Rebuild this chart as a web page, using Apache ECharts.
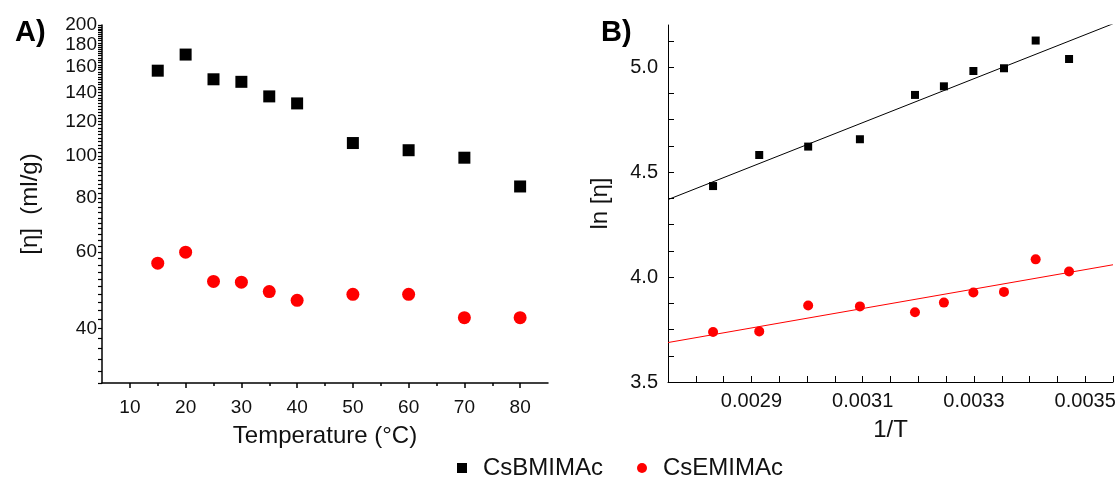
<!DOCTYPE html>
<html>
<head>
<meta charset="utf-8">
<title>Intrinsic viscosity of CsBMIMAc and CsEMIMAc</title>
<script src="https://cdn.jsdelivr.net/npm/echarts@6/dist/echarts.min.js"></script>
<style>
  html, body { margin: 0; padding: 0; background: #fff; }
  #chart { width: 1119px; height: 481px; }
</style>
</head>
<body>
<div id="chart"></div>
<script>
// Panel A: intrinsic viscosity [η] (ml/g) against temperature (°C)
const temperatures = [15, 20, 25, 30, 35, 40, 50, 60, 70, 80];
const etaBMIM = [157, 171, 150, 148, 137, 132, 107, 103, 99, 85];
const etaEMIM = [56.6, 60, 51.4, 51.2, 48.7, 46.5, 48, 48, 42.4, 42.4];

// Panel B: ln [η] against 1/T (T in K), ordered by increasing 1/T
const inverseT = [0.002831, 0.002914, 0.003002, 0.003095, 0.003194, 0.003246, 0.003299, 0.003354, 0.003411, 0.003471];
const lnEtaBMIM = [4.433, 4.581, 4.621, 4.656, 4.867, 4.908, 4.981, 4.994, 5.126, 5.038];
const lnEtaEMIM = [3.738, 3.741, 3.864, 3.860, 3.832, 3.878, 3.926, 3.929, 4.084, 4.026];

// Tick labels
const tempTicks = [10, 20, 30, 40, 50, 60, 70, 80];
const tempMinorTicks = [15, 25, 35, 45, 55, 65, 75];
const etaTickLabels = [40, 60, 80, 100, 120, 140, 160, 180, 200];
const invTLabels = [0.0029, 0.0031, 0.0033, 0.0035];
const lnEtaLabels = [3.5, 4.0, 4.5, 5.0];

const seriesNames = ['CsBMIMAc', 'CsEMIMAc'];

// minor ticks on the log axis every 2 ml/g
const etaTicks = [];
for (let v = 30; v <= 200; v += 2) etaTicks.push(v);
// ticks on 1/T every 0.00005
const invTTicks = [];
for (let i = 0; i <= 15; i++) invTTicks.push(+(0.0028 + i * 0.00005).toFixed(5));
// ticks on ln[η] every 0.125
const lnEtaTicks = [];
for (let v = 3.5; v <= 5.2; v += 0.125) lnEtaTicks.push(+v.toFixed(3));

const pairs = (xs, ys) => xs.map((x, i) => [x, ys[i]]);

// least-squares straight line through the points, drawn across the x range
function fitLine(xs, ys, x0, x1) {
  const n = xs.length;
  const mx = xs.reduce((a, b) => a + b, 0) / n;
  const my = ys.reduce((a, b) => a + b, 0) / n;
  let sxy = 0, sxx = 0;
  for (let i = 0; i < n; i++) {
    sxy += (xs[i] - mx) * (ys[i] - my);
    sxx += (xs[i] - mx) * (xs[i] - mx);
  }
  const k = sxy / sxx;
  const b = my - k * mx;
  return [[x0, k * x0 + b], [x1, k * x1 + b]];
}

const invTMin = 0.00275, invTMax = 0.00355;
const FONT = '"Liberation Sans", Arial, sans-serif';
const TXT = '#111';
const BLACK = '#000000';
const RED = '#ff0000';

const chart = echarts.init(document.getElementById('chart'), null, { renderer: 'canvas' });

chart.setOption({
  backgroundColor: '#ffffff',
  animation: false,
  title: [
    { text: 'A)', left: 10, top: 13, textStyle: { fontFamily: FONT, fontWeight: 'bold', fontSize: 29, color: '#000' } },
    { text: 'B)', left: 596, top: 13, textStyle: { fontFamily: FONT, fontWeight: 'bold', fontSize: 29, color: '#000' } }
  ],
  legend: {
    data: [
      { name: seriesNames[0], icon: 'rect', itemStyle: { color: BLACK, opacity: 1 } },
      { name: seriesNames[1], icon: 'circle', itemStyle: { color: RED, opacity: 1 } }
    ],
    left: 452, top: 451,
    itemWidth: 10, itemHeight: 10,
    itemGap: 34,
    textStyle: { fontFamily: FONT, fontSize: 24, color: TXT, padding: [0, 0, 0, 11] }
  },
  grid: [
    { left: 102, top: 25, width: 446, height: 358 },
    { left: 668, top: 25, width: 445, height: 357 }
  ],
  xAxis: [
    {
      gridIndex: 0, type: 'value', min: 5, max: 85,
      name: 'Temperature (°C)', nameLocation: 'middle', nameGap: 41,
      nameTextStyle: { fontFamily: FONT, fontSize: 24, color: TXT },
      axisLine: { lineStyle: { color: '#000', width: 1.5 } },
      axisTick: { customValues: tempTicks, length: 5, lineStyle: { color: '#000', width: 1.5 } },
      axisLabel: { customValues: tempTicks, margin: 15, fontFamily: FONT, fontSize: 19, color: TXT },
      splitLine: { show: false }
    },
    {
      gridIndex: 0, type: 'value', min: 5, max: 85, position: 'bottom',
      axisLine: { show: false },
      axisTick: { customValues: tempMinorTicks, length: 3, lineStyle: { color: '#000', width: 1.5 } },
      axisLabel: { show: false },
      splitLine: { show: false }
    },
    {
      gridIndex: 1, type: 'value', min: invTMin, max: invTMax,
      name: '1/T', nameLocation: 'middle', nameGap: 36,
      nameTextStyle: { fontFamily: FONT, fontSize: 24, color: TXT },
      axisLine: { lineStyle: { color: '#000', width: 1 } },
      axisTick: { customValues: invTTicks, inside: true, length: 6, lineStyle: { color: '#000', width: 1 } },
      axisLabel: { customValues: invTLabels, margin: 9, fontFamily: FONT, fontSize: 20, color: TXT,
                   formatter: v => v.toFixed(4) },
      splitLine: { show: false }
    }
  ],
  yAxis: [
    {
      gridIndex: 0, type: 'log', logBase: 10, min: 30, max: 200,
      name: '[η]  (ml/g)', nameLocation: 'middle', nameGap: 60,
      nameTextStyle: { fontFamily: FONT, fontSize: 24, color: TXT },
      axisLine: { lineStyle: { color: '#000', width: 1.5 } },
      axisTick: { customValues: etaTicks, length: 4, lineStyle: { color: '#000', width: 1.2 } },
      axisLabel: { customValues: etaTickLabels, margin: 5, fontFamily: FONT, fontSize: 19, color: TXT },
      splitLine: { show: false },
      minorTick: { show: false }
    },
    {
      gridIndex: 1, type: 'value', min: 3.5, max: 5.2,
      name: 'ln [η]', nameLocation: 'middle', nameGap: 56,
      nameTextStyle: { fontFamily: FONT, fontSize: 24, color: TXT },
      axisLine: { lineStyle: { color: '#000', width: 1 } },
      axisTick: { customValues: lnEtaTicks, inside: true, length: 6, lineStyle: { color: '#000', width: 1 } },
      axisLabel: { customValues: lnEtaLabels, margin: 10, fontFamily: FONT, fontSize: 20, color: TXT,
                   formatter: v => v.toFixed(1) },
      splitLine: { show: false }
    }
  ],
  series: [
    {
      name: seriesNames[0], type: 'scatter', xAxisIndex: 0, yAxisIndex: 0,
      symbol: 'rect', symbolSize: 12, itemStyle: { color: BLACK, opacity: 1 },
      data: pairs(temperatures, etaBMIM)
    },
    {
      name: seriesNames[1], type: 'scatter', xAxisIndex: 0, yAxisIndex: 0,
      symbol: 'circle', symbolSize: 13, itemStyle: { color: RED, opacity: 1 },
      data: pairs(temperatures, etaEMIM)
    },
    {
      name: 'fit ' + seriesNames[0], type: 'line', xAxisIndex: 2, yAxisIndex: 1,
      showSymbol: false, silent: true, clip: true,
      lineStyle: { color: BLACK, width: 1 },
      data: fitLine(inverseT, lnEtaBMIM, invTMin, invTMax)
    },
    {
      name: 'fit ' + seriesNames[1], type: 'line', xAxisIndex: 2, yAxisIndex: 1,
      showSymbol: false, silent: true, clip: true,
      lineStyle: { color: RED, width: 1 },
      data: fitLine(inverseT, lnEtaEMIM, invTMin, invTMax)
    },
    {
      name: seriesNames[0], type: 'scatter', xAxisIndex: 2, yAxisIndex: 1,
      symbol: 'rect', symbolSize: 8, itemStyle: { color: BLACK, opacity: 1 },
      data: pairs(inverseT, lnEtaBMIM)
    },
    {
      name: seriesNames[1], type: 'scatter', xAxisIndex: 2, yAxisIndex: 1,
      symbol: 'circle', symbolSize: 10, itemStyle: { color: RED, opacity: 1 },
      data: pairs(inverseT, lnEtaEMIM)
    }
  ]
});
</script>
</body>
</html>
